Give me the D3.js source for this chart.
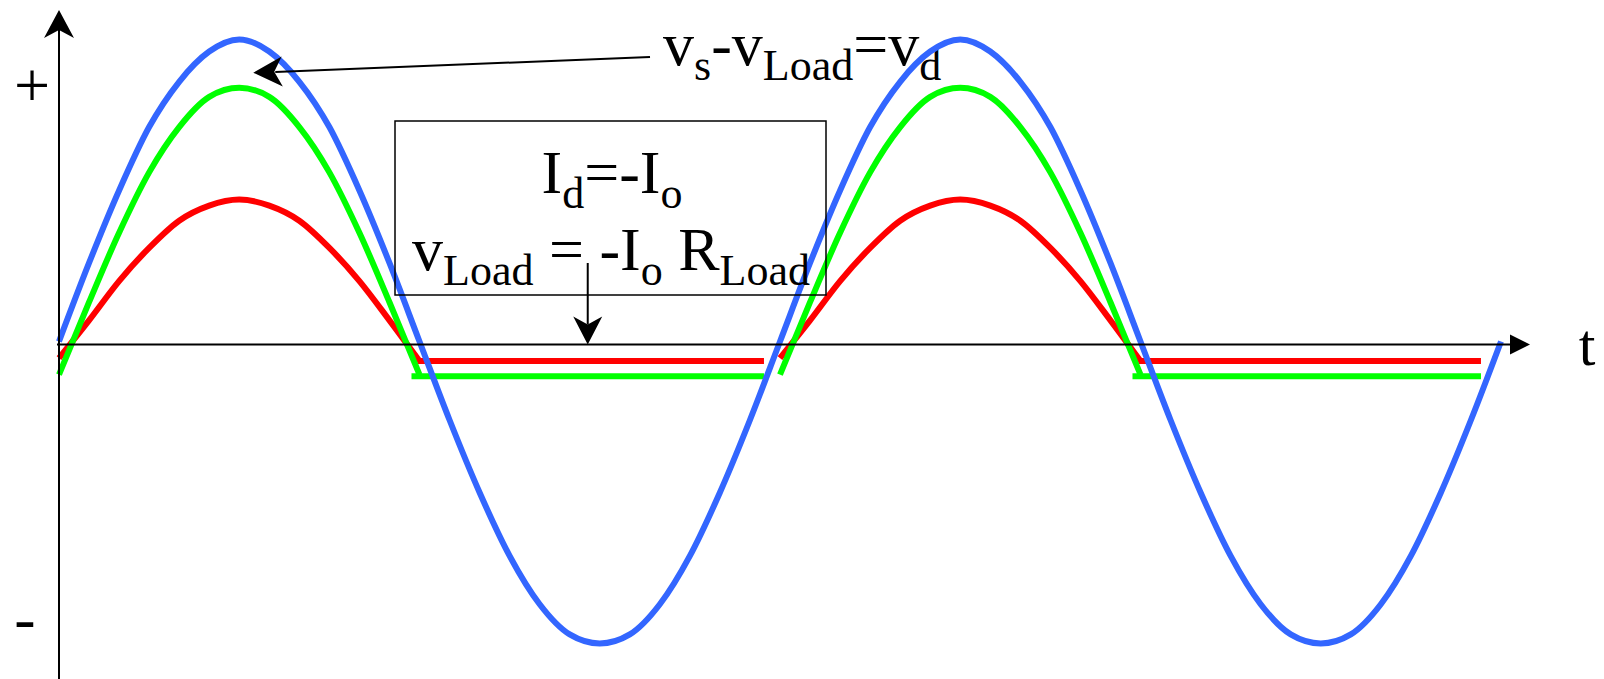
<!DOCTYPE html>
<html>
<head>
<meta charset="utf-8">
<script src="https://cdn.jsdelivr.net/npm/d3@7"></script>
<style>
  html, body { margin: 0; padding: 0; background: #fff; overflow: hidden; }
  svg { display: block; }
  text { font-family: "Liberation Serif", "DejaVu Serif", serif; fill: #000; white-space: pre; }
</style>
</head>
<body>
<svg id="chart"></svg>
<script>
// phase angle in degrees, one sample every 15 degrees
var fullAngles = d3.range(0, 721, 15),
    halfAngles = d3.range(0, 181, 15)

// source voltage vs (blue), two full periods
var vSource = [
   0.01, 0.27, 0.51, 0.72, 0.87, 0.97, 1.01, 0.97, 0.87, 0.72, 0.51, 0.27,
   0.01,-0.25,-0.49,-0.70,-0.86,-0.96,-0.99,-0.96,-0.86,-0.70,-0.49,-0.25,
   0.01, 0.27, 0.51, 0.72, 0.87, 0.97, 1.01, 0.97, 0.87, 0.72, 0.51, 0.27,
   0.01,-0.25,-0.49,-0.70,-0.86,-0.96,-0.99,-0.96,-0.86,-0.70,-0.49,-0.25,
   0.01
]

// conducting half waves (start angle of each half wave)
var halfStarts = [0, 360]
var vLoadHalf = [-0.045, 0.08, 0.21, 0.32, 0.41, 0.46, 0.48, 0.46, 0.41, 0.32, 0.21, 0.08, -0.055]
var vDiodeHalf = [-0.10, 0.14, 0.37, 0.57, 0.72, 0.82, 0.85, 0.82, 0.72, 0.57, 0.37, 0.14, -0.10]

// blocking intervals: [from angle, to angle, level]
var vLoadFlat = [[179, 352, -0.055], [539, 710, -0.055]]
var vDiodeFlat = [[176, 352, -0.105], [536, 710, -0.105]]

var colors = { source: "#3366ff", load: "#ff0000", diode: "#00ff00" }

var width = 1604,
    height = 679

var svg = d3.select('#chart')
    .attr('width', width)
    .attr('height', height)

var x = d3.scaleLinear().domain([0, 720]).range([59, 1501])
var y = d3.scaleLinear().domain([-1, 1]).range([646.5, 42.5])

var line = d3.line()
    .x(function(d){ return x(d[0]) })
    .y(function(d){ return y(d[1]) })
    .curve(d3.curveMonotoneX)

// text with subscripts, parts = [text, isSub]
function eq(g, px, py, parts, anchor, size, subSize, shift) {
    var t = g.append('text')
        .attr('x', px)
        .attr('y', py)
        .attr('text-anchor', anchor)
        .attr('font-size', size + 'px')
    var inSub = false
    parts.forEach(function(p){
        var dy = 0
        if (p[1] && !inSub) dy = shift
        if (!p[1] && inSub) dy = -shift
        inSub = p[1]
        t.append('tspan')
            .attr('dy', dy)
            .attr('font-size', (p[1] ? subSize : size) + 'px')
            .text(p[0])
    })
    return t
}

function arrowHead(g, tip, from, len, half, notch) {
    var dx = tip[0] - from[0], dy = tip[1] - from[1]
    var l = Math.sqrt(dx * dx + dy * dy)
    var ux = dx / l, uy = dy / l, nx = -uy, ny = ux
    var bx = tip[0] - ux * len, by = tip[1] - uy * len
    var p = d3.path()
    p.moveTo(tip[0], tip[1])
    p.lineTo(bx + nx * half, by + ny * half)
    p.lineTo(tip[0] - ux * (len - notch), tip[1] - uy * (len - notch))
    p.lineTo(bx - nx * half, by - ny * half)
    p.closePath()
    g.append('path').attr('d', p.toString()).attr('fill', '#000')
}

// labels under the curves
var labels = svg.append('g')
eq(labels, 663, 65, [['v', false], ['s', true], ['-', false], ['v', false], ['Load', true], ['=', false], ['v', false], ['d', true]], 'start', 62, 44, 15)

// curves
var curves = svg.append('g').attr('fill', 'none').attr('stroke-width', 6)

halfStarts.forEach(function(s){
    curves.append('path')
        .attr('d', line(halfAngles.map(function(a, i){ return [s + a, vLoadHalf[i]] })))
        .attr('stroke', colors.load)
})
vLoadFlat.forEach(function(f){
    curves.append('path')
        .attr('d', line([[f[0], f[2]], [f[1], f[2]]]))
        .attr('stroke', colors.load)
})
halfStarts.forEach(function(s){
    curves.append('path')
        .attr('d', line(halfAngles.map(function(a, i){ return [s + a, vDiodeHalf[i]] })))
        .attr('stroke', colors.diode)
})
vDiodeFlat.forEach(function(f){
    curves.append('path')
        .attr('d', line([[f[0], f[2]], [f[1], f[2]]]))
        .attr('stroke', colors.diode)
})
curves.append('path')
    .attr('d', line(fullAngles.map(function(a, i){ return [a, vSource[i]] })))
    .attr('stroke', colors.source)

// axes
var axes = svg.append('g')
axes.append('line')
    .attr('x1', x(0)).attr('x2', x(0))
    .attr('y1', height).attr('y2', 30)
    .attr('stroke', '#000').attr('stroke-width', 2)
arrowHead(axes, [x(0), 10], [x(0), 100], 28, 15, 8)
axes.append('line')
    .attr('x1', x(0) - 2).attr('x2', 1512)
    .attr('y1', y(0)).attr('y2', y(0))
    .attr('stroke', '#000').attr('stroke-width', 2)
arrowHead(axes, [1530, y(0)], [1400, y(0)], 20, 10, 0)

axes.append('text').attr('x', 1587).attr('y', 365).attr('text-anchor', 'middle').attr('font-size', '60px').text('t')
axes.append('text').attr('x', 32).attr('y', 107).attr('text-anchor', 'middle').attr('font-size', '64px').text('+')
axes.append('text').attr('x', 25).attr('y', 640).attr('text-anchor', 'middle').attr('font-size', '64px').text('-')

// annotation: vs - vLoad = vd
var ann = svg.append('g')
var annTip = [x(97), y(0.9)]
ann.append('line')
    .attr('x1', 650).attr('y1', 57)
    .attr('x2', annTip[0] + 22).attr('y2', annTip[1] - 0.8)
    .attr('stroke', '#000').attr('stroke-width', 2)
arrowHead(ann, annTip, [650, 57], 29, 15, 8)

// box with the blocking-state equations
var box = svg.append('g')
box.append('rect')
    .attr('x', 395).attr('y', 121)
    .attr('width', 431).attr('height', 174)
    .attr('fill', 'none').attr('stroke', '#000').attr('stroke-width', 1.5)
eq(box, 612, 193, [['I', false], ['d', true], ['=-I', false], ['o', true]], 'middle', 62, 44, 15)
eq(box, 611, 270, [['v', false], ['Load', true], [' = ', false], ['-I', false], ['o', true], [' R', false], ['Load', true]], 'middle', 62, 44, 15)

var boxTip = [x(264), y(0)]
box.append('line')
    .attr('x1', boxTip[0]).attr('y1', 263)
    .attr('x2', boxTip[0]).attr('y2', boxTip[1] - 20)
    .attr('stroke', '#000').attr('stroke-width', 2)
arrowHead(box, boxTip, [boxTip[0], 263], 28, 14.5, 8)
</script>
</body>
</html>
